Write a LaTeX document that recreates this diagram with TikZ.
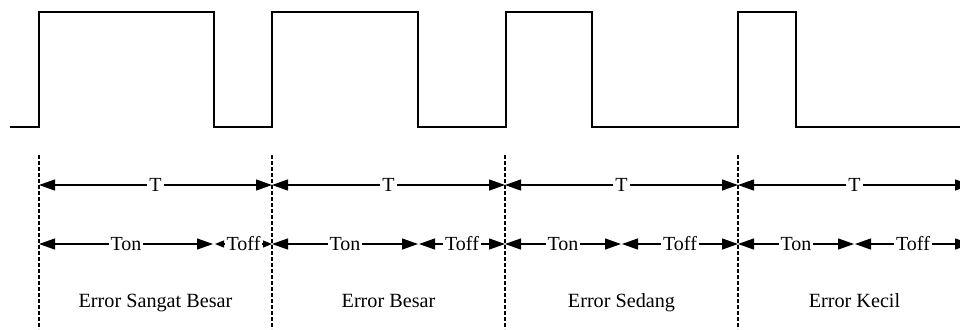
\documentclass[tikz,border=0pt]{standalone}
\usepackage{fontspec}
\setmainfont{Liberation Serif}
\usetikzlibrary{arrows.meta}
\begin{document}
\begin{tikzpicture}[x=0.5pt,y=-0.5pt,
  wave/.style={line width=1pt,line join=miter},
  guide/.style={line width=0.7pt,dash pattern=on 2pt off 1pt},
  dim/.style={line width=0.6pt,{Triangle[length=8pt,width=5.5pt]}-{Triangle[length=8pt,width=5.5pt]}},
  dimsmall/.style={line width=0.6pt,{Triangle[length=4.5pt,width=3.5pt]}-{Triangle[length=4.5pt,width=3.5pt]}},
  lbl/.style={fill=white,inner xsep=1pt,inner ysep=0.5pt,font=\fontsize{10}{12}\selectfont},
  region/.style={inner sep=0pt,anchor=base,font=\fontsize{10.1}{12}\selectfont}]
\clip (0,0) rectangle (960,329);
% waveform
\draw[wave] (10,127) -- (39,127) -- (39,12) -- (214,12) -- (214,127) -- (272,127)
  -- (272,12) -- (418,12) -- (418,127) -- (506,127) -- (506,12) -- (592,12)
  -- (592,127) -- (738,127) -- (738,12) -- (796,12) -- (796,127) -- (960,127);
% boundaries
\foreach \i/\x in {0/39,1/272,2/505,3/738,4/971}{
  \coordinate (g\i) at (\x,155);
  \coordinate (h\i) at (\x,329);
  \coordinate (t\i) at (\x,185);
  \coordinate (o\i) at (\x,244);
}
\foreach \i in {0,1,2,3}{ \draw[guide] (g\i) -- (h\i); }
% T arrows
\draw[dim] (t0) -- node[lbl]{T} (t1);
\draw[dim] (t1) -- node[lbl]{T} (t2);
\draw[dim] (t2) -- node[lbl]{T} (t3);
\draw[dim] (t3) -- node[lbl]{T} (t4);
% Ton / Toff split points
\coordinate (a1) at (213,244); \coordinate (b1) at (215,244);
\coordinate (a2) at (418,244); \coordinate (b2) at (419,244);
\coordinate (a3) at (621,244); \coordinate (b3) at (622,244);
\coordinate (a4) at (854,244); \coordinate (b4) at (855,244);
\draw[dim] (o0) -- node[lbl]{Ton} (a1);
\draw[dimsmall] (b1) -- node[lbl]{Toff} (o1);
\draw[dim] (o1) -- node[lbl]{Ton} (a2);
\draw[dim] (b2) -- node[lbl]{Toff} (o2);
\draw[dim] (o2) -- node[lbl]{Ton} (a3);
\draw[dim] (b3) -- node[lbl]{Toff} (o3);
\draw[dim] (o3) -- node[lbl]{Ton} (a4);
\draw[dim] (b4) -- node[lbl]{Toff} (o4);
% region labels
\node[region] (r1) at (155.5,307) {Error Sangat Besar};
\node[region] (r2) at (388.5,307) {Error Besar};
\node[region] (r3) at (621.5,307) {Error Sedang};
\node[region] (r4) at (854.5,307) {Error Kecil};
\end{tikzpicture}
\end{document}
